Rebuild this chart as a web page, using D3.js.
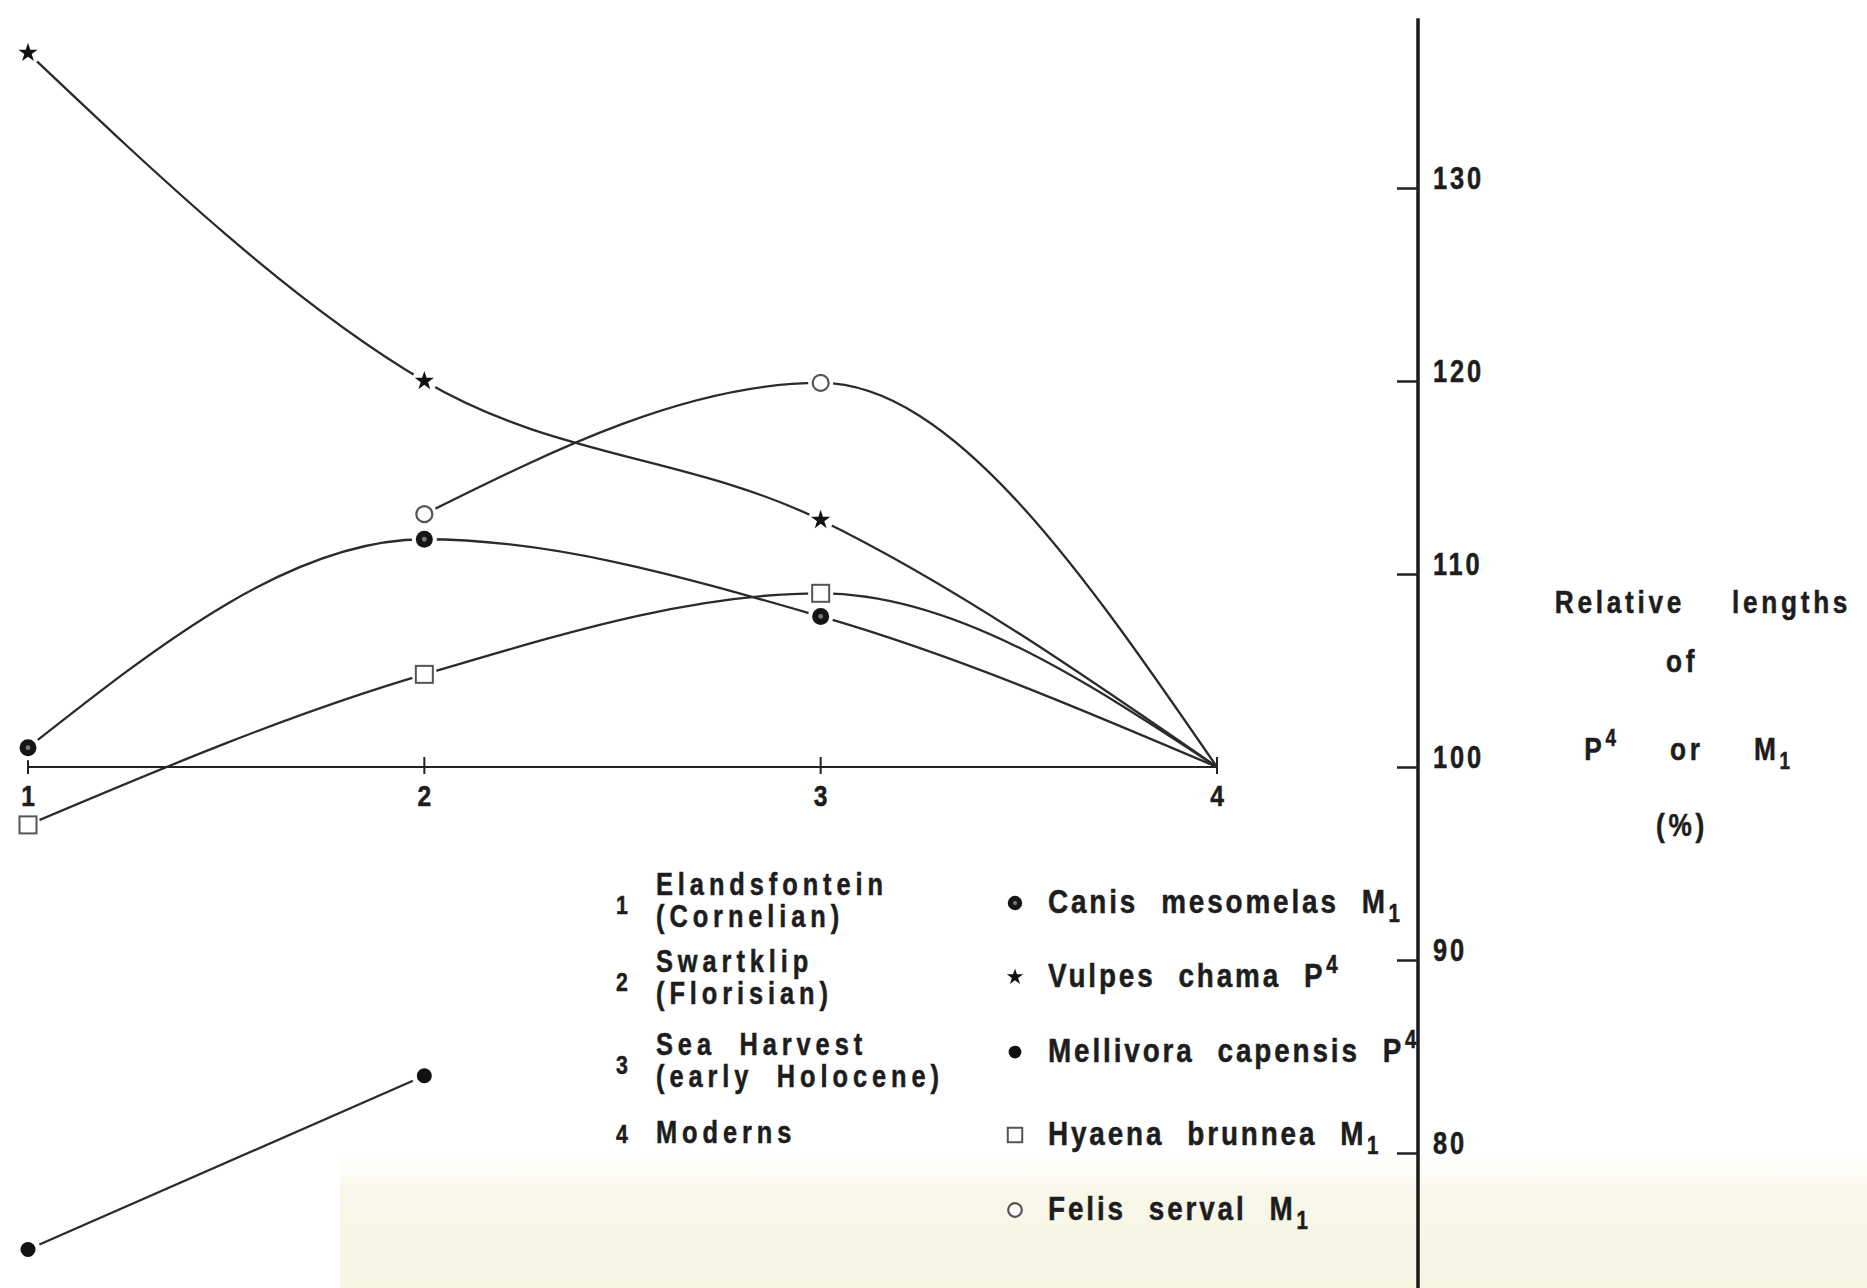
<!DOCTYPE html>
<meta charset="utf-8">
<style>
  body { margin: 0; background: #fff; }
  svg { display: block; }
  text {
    font-family: "Liberation Sans", Arial, sans-serif;
    font-weight: bold;
    fill: #1d1d1d;
    stroke: #1d1d1d;
    stroke-width: 0.5px;
  }
  .curve { fill: none; stroke: #2b2b2b; stroke-width: 2.3px; }
  .xaxis line { stroke: #222; stroke-width: 2px; }
  .yaxis .tick line { stroke: #222; stroke-width: 2.5px; }
  .yaxis .domain { display: none; }
  .spine { stroke: #1a1a1a; stroke-width: 3.5px; }
  .knock { fill: #fff; }
</style>
<body>
<script src="https://d3js.org/d3.v7.min.js"></script>
<script>
// sites along the bottom axis
var sites = [1, 2, 3, 4];
var siteNames = [
  ["Elandsfontein", "(Cornelian)"],
  ["Swartklip", "(Florisian)"],
  ["Sea Harvest", "(early Holocene)"],
  ["Moderns"]
];

// species, tooth measured, marker
var species = ["Canis mesomelas", "Vulpes chama", "Mellivora capensis", "Hyaena brunnea", "Felis serval"];
var teeth = [["M", "1", "sub"], ["P", "4", "sup"], ["P", "4", "sup"], ["M", "1", "sub"], ["M", "1", "sub"]];
var markers = ["canis", "star", "dot", "square", "ring"];

// relative lengths (%) at sites 1..4, moderns = 100, null = no sample
var canis     = [101, 111.8, 107.8, 100];
var vulpes    = [137, 120, 112.8, 100];
var mellivora = [75, 84, null, null];
var hyaena    = [97, 104.8, 109, 100];
var felis     = [null, 113.1, 119.9, 100];
var seriesValues = [canis, vulpes, mellivora, hyaena, felis];

var yTicks = [80, 90, 100, 110, 120, 130];

var width = 1867, height = 1288;
var squeeze = 0.82;   // the print face is a condensed grotesque

var svg = d3.select("body").append("svg")
    .attr("width", width)
    .attr("height", height);

// paper tint at the bottom of the scan
var defs = svg.append("defs");
var grad = defs.append("linearGradient").attr("id", "paper")
    .attr("x1", 0).attr("y1", 0).attr("x2", 0).attr("y2", 1);
grad.append("stop").attr("offset", "0").attr("stop-color", "#fbfaf2").attr("stop-opacity", 0);
grad.append("stop").attr("offset", "0.3").attr("stop-color", "#f9f7ea");
grad.append("stop").attr("offset", "1").attr("stop-color", "#f7f4e2");
svg.append("rect")
    .attr("x", 340).attr("y", 1150)
    .attr("width", width - 340).attr("height", height - 1150)
    .attr("fill", "url(#paper)");

var x = d3.scalePoint().domain(sites).range([28, 1217]);
var y = d3.scaleLinear().domain([80, 130]).range([1153, 188]);
var axisX = 1418;

// text helper: condensed label placed at (px, py)
function label(parent, px, py, size, spacing, anchor) {
    var g = parent.append("g").attr("transform", "translate(" + px + "," + py + ")");
    return g.append("text")
        .attr("transform", "scale(" + squeeze + ",1)")
        .attr("text-anchor", anchor || "start")
        .style("font-size", size + "px")
        .style("letter-spacing", spacing + "px");
}

// right-hand value axis
svg.append("line").attr("class", "spine")
    .attr("x1", axisX).attr("x2", axisX)
    .attr("y1", y(138.8)).attr("y2", height);

var yAxis = svg.append("g")
    .attr("class", "yaxis")
    .attr("transform", "translate(" + axisX + ",0)")
    .call(d3.axisRight(y).tickValues(yTicks).tickSizeInner(-21).tickSizeOuter(0).tickPadding(15));
yAxis.selectAll("text")
    .attr("x", 0)
    .attr("dy", "0.03em")
    .attr("transform", "translate(15,0) scale(" + squeeze + ",1)")
    .style("font-size", "31px")
    .style("letter-spacing", "3.5px");

// bottom axis at the 100 % line
var xAxis = svg.append("g").attr("class", "xaxis");
xAxis.append("line")
    .attr("x1", x(1)).attr("x2", x(4))
    .attr("y1", y(100)).attr("y2", y(100));
xAxis.selectAll(".tk").data(sites).enter().append("line")
    .attr("class", "tk")
    .attr("x1", function(d) { return x(d); }).attr("x2", function(d) { return x(d); })
    .attr("y1", y(100) - 10).attr("y2", y(100) + 7);
sites.forEach(function(s) {
    label(xAxis, x(s), y(100) + 39, 30, 0, "middle").text(s);
});

// curves
var line = d3.line()
    .defined(function(d) { return d.v != null; })
    .x(function(d) { return x(d.s); })
    .y(function(d) { return y(d.v); })
    .curve(d3.curveMonotoneX);

var series = seriesValues.map(function(vals, i) {
    return {
        marker: markers[i],
        pts: vals.map(function(v, j) { return {s: sites[j], v: v}; })
    };
});

svg.append("g").selectAll("path").data(series).enter().append("path")
    .attr("class", "curve")
    .attr("d", function(d) { return line(d.pts); });

// marked points (moderns are the 100 % reference, no marker)
var points = [];
series.forEach(function(d) {
    d.pts.forEach(function(p) {
        if (p.v != null && p.s !== 4) points.push({marker: d.marker, s: p.s, v: p.v});
    });
});

svg.append("g").selectAll("circle").data(points).enter().append("circle")
    .attr("class", "knock")
    .attr("cx", function(d) { return x(d.s); })
    .attr("cy", function(d) { return y(d.v); })
    .attr("r", 12.5);

function drawMarker(g, type, k) {
    if (type === "star") {
        g.append("path").attr("d", d3.symbol(d3.symbolStar, 115 * k * k)()).attr("fill", "#111");
    } else if (type === "dot") {
        g.append("circle").attr("r", 7.5 * k).attr("fill", "#111");
    } else if (type === "canis") {
        g.append("circle").attr("r", 8.5 * k).attr("fill", "#151515");
        g.append("circle").attr("r", 2.4 * k).attr("fill", "#7a7a7a");
    } else if (type === "square") {
        var s = 17 * k;
        g.append("rect").attr("x", -s / 2).attr("y", -s / 2).attr("width", s).attr("height", s)
            .attr("fill", "#fff").attr("stroke", "#555").attr("stroke-width", 2);
    } else if (type === "ring") {
        g.append("circle").attr("r", 8 * k).attr("fill", "#fff")
            .attr("stroke", "#555").attr("stroke-width", 2.2);
    }
}

svg.append("g").selectAll("g").data(points).enter().append("g")
    .attr("transform", function(d) { return "translate(" + x(d.s) + "," + y(d.v) + ")"; })
    .each(function(d) { drawMarker(d3.select(this), d.marker, 1); });

// site legend
var siteLegend = svg.append("g");
var siteRowY = [895, 972, 1055, 1143];
siteNames.forEach(function(names, i) {
    var base = siteRowY[i];
    var numY = names.length > 1 ? base + 19 : base;
    label(siteLegend, 616, numY, 26, 0).text(sites[i]);
    names.forEach(function(nm, j) {
        label(siteLegend, 656, base + j * 32, 31, 6)
            .style("word-spacing", "14px")
            .text(nm);
    });
});

// species legend
var spLegend = svg.append("g");
var spRowY = [913, 987, 1062, 1145, 1220];
species.forEach(function(nm, i) {
    var mg = spLegend.append("g").attr("transform", "translate(1015," + (spRowY[i] - 10) + ")");
    drawMarker(mg, markers[i], 0.85);
    var t = label(spLegend, 1048, spRowY[i], 34, 3.5)
        .style("word-spacing", "15px");
    t.append("tspan").text(nm + " " + teeth[i][0]);
    t.append("tspan")
        .style("font-size", "25px")
        .attr("dx", 1)
        .attr("dy", teeth[i][2] === "sub" ? 9 : -14)
        .text(teeth[i][1]);
});

// axis title on the right
var title = svg.append("g");
label(title, 1703, 613, 32, 4.5, "middle").style("word-spacing", "44px").text("Relative lengths");
label(title, 1682, 672, 32, 4.5, "middle").text("of");
var t3 = label(title, 1689, 760, 32, 4.5, "middle").style("word-spacing", "48px");
t3.append("tspan").text("P");
t3.append("tspan").style("font-size", "23px").attr("dy", -14).text("4");
t3.append("tspan").attr("dy", 14).text(" or M");
t3.append("tspan").style("font-size", "23px").attr("dy", 9).text("1");
label(title, 1682, 836, 32, 4.5, "middle").text("(%)");
</script>
</body>
